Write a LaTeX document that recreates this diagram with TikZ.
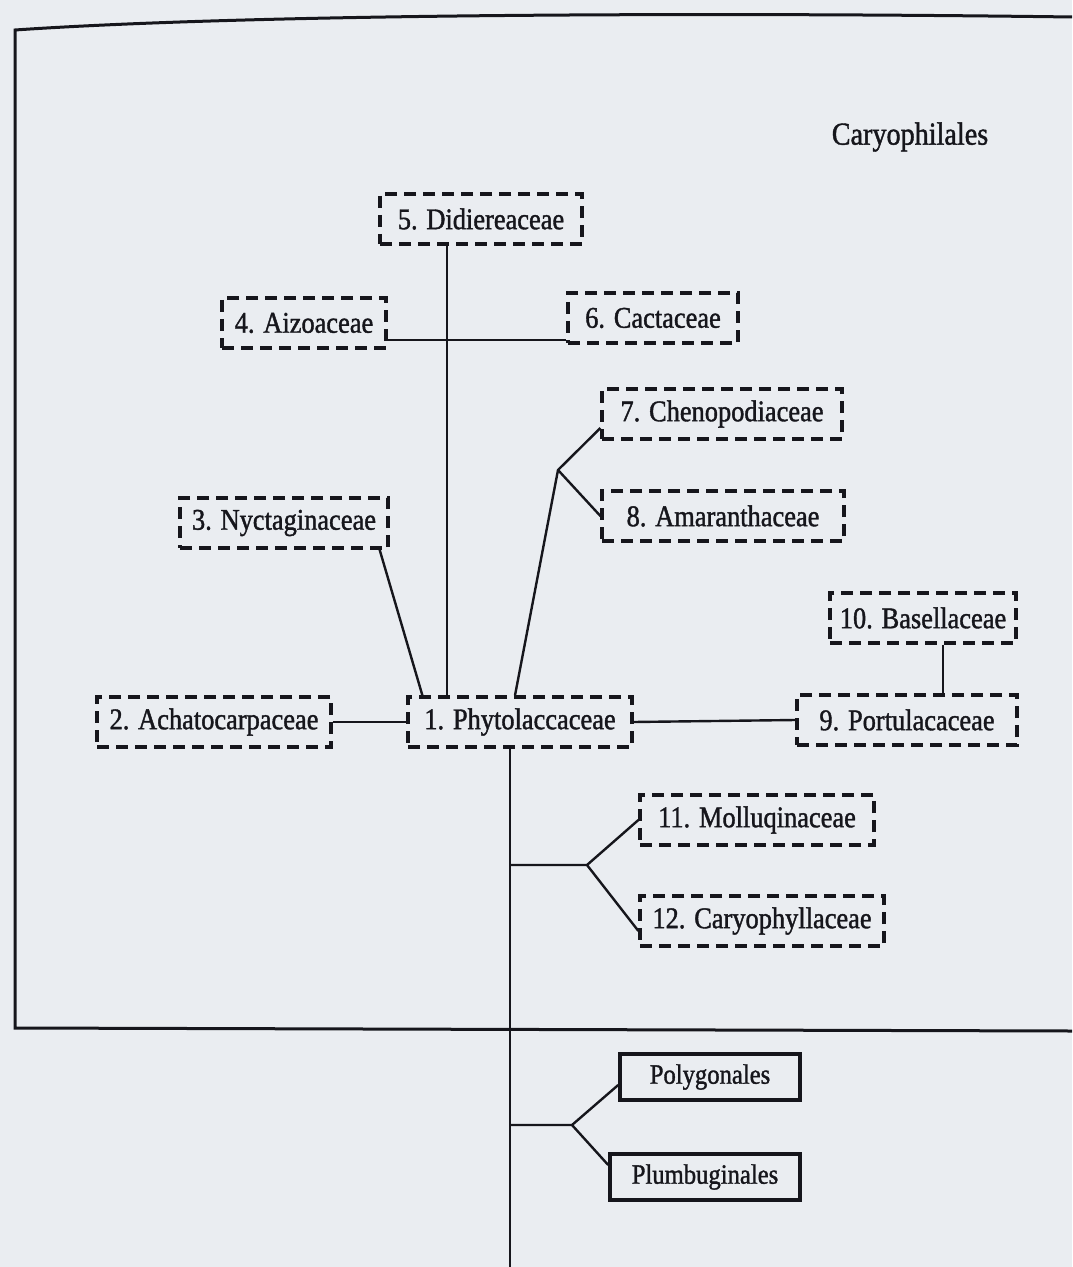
\documentclass[tikz,border=0pt]{standalone}
\usepackage{fontspec}
\setmainfont[FakeStretch=0.88, FakeBold=1.3]{Liberation Serif}
\definecolor{paper}{RGB}{234,237,241}
\definecolor{ink}{RGB}{22,22,28}
\tikzset{
  fam/.style={draw=ink, line width=1.6pt, dash pattern=on 6pt off 3.5pt, fill=paper,
    minimum height=25pt, inner xsep=3pt, text=ink, font=\fontsize{15}{17}\selectfont},
  ord/.style={draw=ink, line width=1.8pt, fill=paper, minimum height=23pt,
    text=ink, font=\fontsize{14}{16}\selectfont},
  link/.style={draw=ink, line width=1.2pt}
}
\begin{document}
\begin{tikzpicture}[x=0.5pt, y=-0.5pt]
      \fill[paper] (0,0) rectangle (1072,1267);
      \useasboundingbox (0,0) rectangle (1072,1267);
      \draw[ink, line width=1.5pt] (1072,17) .. controls (700,12) and (250,14) .. (15,30) -- (15,1028) -- (1072,1031);
      \node[text=ink, font=\fontsize{16}{18}\selectfont] (title) at (910,137) {Caryophilales};
      \node[fam, minimum width=101pt] (did) at (481,219) {5. Didiereaceae};
      \node[fam, minimum width=82pt] (aiz) at (304,323) {4. Aizoaceae};
      \node[fam, minimum width=85pt] (cac) at (653,318) {6. Cactaceae};
      \node[fam, minimum width=120pt] (che) at (722,414) {7. Chenopodiaceae};
      \node[fam, minimum width=121pt] (ama) at (723,516) {8. Amaranthaceae};
      \node[fam, minimum width=104pt] (nyc) at (284,523) {3. Nyctaginaceae};
      \node[fam, minimum width=117pt] (ach) at (214,722) {2. Achatocarpaceae};
      \node[fam, minimum width=112pt] (phy) at (520,722) {1. Phytolaccaceae};
      \node[fam, minimum width=110pt] (por) at (907,720) {9. Portulacaceae};
      \node[fam, minimum width=93pt] (bas) at (923,618) {10. Basellaceae};
      \node[fam, minimum width=117pt] (mol) at (757,820) {11. Molluqinaceae};
      \node[fam, minimum width=122pt] (car) at (762,921) {12. Caryophyllaceae};
      \node[ord, minimum width=90pt] (pol) at (710,1077) {Polygonales};
      \node[ord, minimum width=95pt] (plu) at (705,1177) {Plumbuginales};
      % upper branches
      \coordinate (stem) at (447,0);
      \draw[link] (stem |- did.south) -- (stem |- phy.north);
      \coordinate (ac) at (0,340);
      \draw[link] (aiz.east |- ac) -- (cac.west |- ac);
      \draw[link] ([xshift=-5pt]nyc.south east) -- ([xshift=8pt]phy.north west);
      \coordinate (fk1) at (558,470);
      \draw[link] ([xshift=-2.5pt]phy.north) -- (fk1) -- ([yshift=-7pt]che.west);
      \draw[link] (fk1) -- (ama.west);
      \draw[link] (ach.east) -- (phy.west);
      \draw[link] (phy.east) -- (por.west);
      \coordinate (bp) at (943,0);
      \draw[link] (bp |- bas.south) -- (bp |- por.north);
      % trunk
      \coordinate (trunk) at (510,1267);
      \draw[link] (trunk |- phy.south) -- (trunk);
      \coordinate (fk2) at (587,865);
      \draw[link] (trunk |- fk2) -- (fk2) -- (mol.west);
      \draw[link] (fk2) -- ([yshift=-5pt]car.west);
      \coordinate (fk3) at (572,1125);
      \draw[link] (trunk |- fk3) -- (fk3) -- ([yshift=-4pt]pol.west);
      \draw[link] (fk3) -- ([yshift=6pt]plu.west);
    \end{tikzpicture}
\end{document}
